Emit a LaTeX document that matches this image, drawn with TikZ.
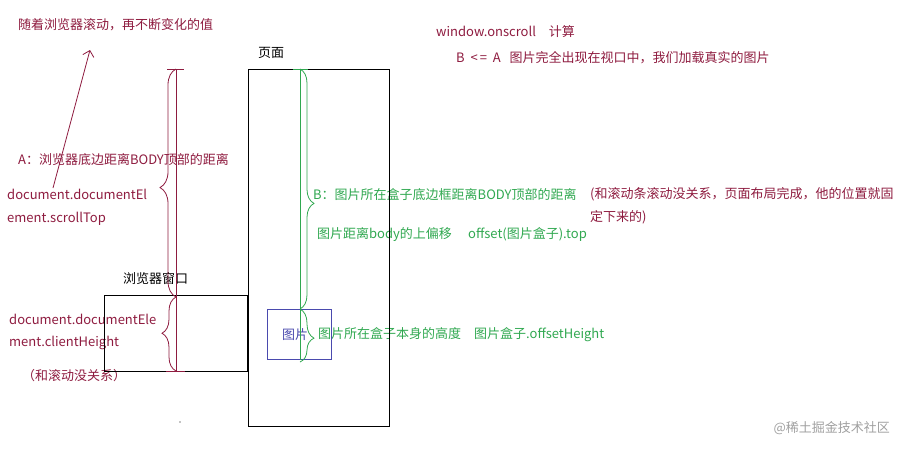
\documentclass[tikz,border=0pt]{standalone}
\usepackage{fontspec}
\setmainfont{Noto Sans CJK SC}
\usepackage{tikz}
\usetikzlibrary{arrows.meta,decorations.pathreplacing}
\definecolor{wine}{HTML}{8E1B3F}
\definecolor{leaf}{HTML}{30A850}
\definecolor{iris}{HTML}{4A4AAE}
\definecolor{ash}{HTML}{A0A0A0}
\tikzset{
  >={Straight Barb[length=2mm]},
  every node/.style={font=\fontsize{13}{15}\selectfont,inner sep=0pt},
  note/.style={anchor=west,text=wine},
  gnote/.style={anchor=west,text=leaf},
  winbox/.style={draw=black,line width=0.8pt},
  wline/.style={draw=wine,line width=0.8pt},
  gline/.style={draw=leaf,line width=0.8pt},
  curly/.style={decorate,decoration={brace,amplitude=#1}},
}
\begin{document}
\begin{tikzpicture}[x=1pt,y=-1pt]
  \useasboundingbox (0,0) rectangle (906,453);
  \node[note] (rolling) at (18,25) {随着浏览器滚动，再不断变化的值};
  \node[note] (labA) at (18,160) {A：浏览器底边距离BODY顶部的距离};
  \node[note] (scroll1) at (7,194) {document.documentEl};
  \node[note] (scroll2) at (7,219) {ement.scrollTop};
  \node[anchor=west] (wintitle) at (123,279) {浏览器窗口};
  \node[note] (client1) at (9,319) {document.documentEle};
  \node[note] (client2) at (9,343) {ment.clientHeight};
  \node[note] (client3) at (22,376) {（和滚动没关系）};
  \node[anchor=west] (pagetitle) at (258,53) {页面};
  \node[note] (onscroll) at (436,32) {window.onscroll\quad 计算};
  \node[note] (rule) at (456,58) {B\ \ <\,=\ \ A\ \ \ 图片完全出现在视口中，我们加载真实的图片};
  \node[gnote] (labB) at (313,195) {B：图片所在盒子底边框距离BODY顶部的距离};
  \node[note] (fixed1) at (590,194) {(和滚动条滚动没关系，页面布局完成，他的位置就固};
  \node[note] (fixed2) at (590,217) {定下来的)};
  \node[gnote] (offtop) at (317,235) {图片距离body的上偏移\hspace{1.25em}offset(图片盒子).top};
  \node[gnote] (offh) at (318,335) {图片所在盒子本身的高度\hspace{1em}图片盒子.offsetHeight};
  \node[text=iris,anchor=west] (imgtxt) at (282,335) {图片};
  \node[text=ash,anchor=east] (mark) at (890,428) {@稀土掘金技术社区};

  \draw[winbox] (104,295) rectangle (247,371);
  \draw[winbox] (248,69) rectangle (389,426);
  \draw[draw=iris,line width=0.8pt] (267,309) rectangle (331,359);

  \coordinate (arrS) at (53,188);
  \coordinate (arrE) at (90,50);
  \draw[wline,->] (arrS) -- (arrE);

  \draw[wline] (176,69) -- (176,371);
  \draw[wline] (167,69) -- (184,69);
  \draw[wline] (166,371) -- (185,371);
  \draw[wline,curly=16pt,decoration={aspect=0.48}] (176,297) -- (176,69);
  \draw[wline,curly=14pt,decoration={aspect=0.51}] (176,371) -- (176,297);

  \draw[gline] (300,69) -- (300,360);
  \draw[gline] (293,69) -- (308,69);
  \draw[gline,curly=14pt,decoration={aspect=0.56}] (300,69) -- (300,309);
  \draw[gline,curly=14pt,decoration={aspect=0.55}] (300,309) -- (300,362);

  \fill[black] (180,422) circle (0.6pt);
\end{tikzpicture}
\end{document}
